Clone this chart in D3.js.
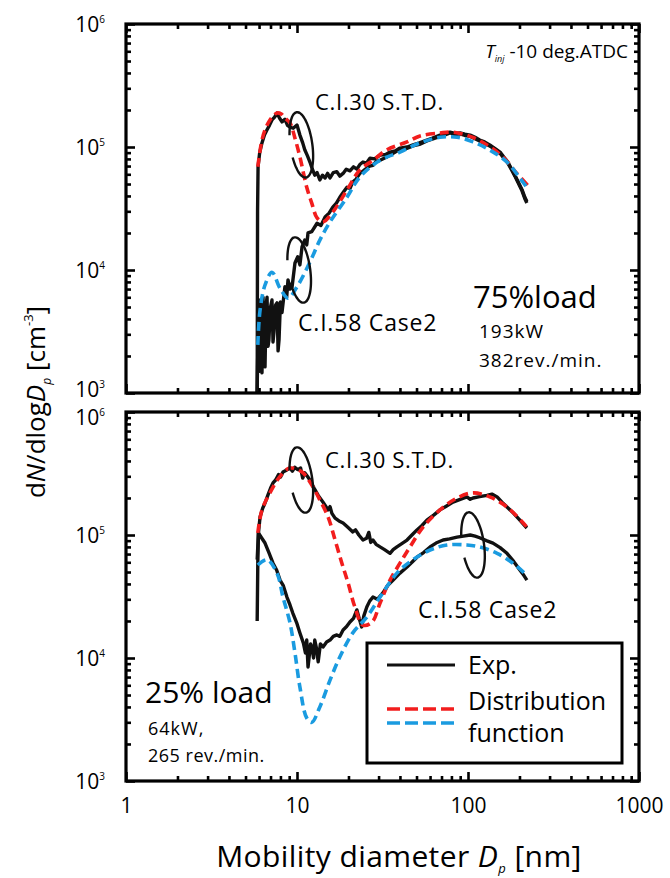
<!DOCTYPE html>
<html>
<head>
<meta charset="utf-8">
<script src="https://cdn.jsdelivr.net/npm/d3@7"></script>
<style>
  body { margin: 0; background: #fff; }
  svg { display: block; }
  text { font-family: "Open Sans", Lato, sans-serif; fill: #000; }
</style>
</head>
<body>
<svg id="chart" width="670" height="878"></svg>
<script>
// Particle size distributions, [mobility diameter nm, dN/dlogDp cm^-3]

// 75% load panel
const top30Exp = [[5.85,1000],[5.88,3.0e4],[5.92,6.9e4],[6.05,9.0e4],[6.24,1.08e5],[6.45,1.25e5],[6.68,1.38e5],[6.9,1.5e5],[7.14,1.66e5],[7.4,1.75e5],[7.64,1.89e5],[7.9,1.72e5],[8.17,1.6e5],[8.5,1.68e5],[8.8,1.5e5],[9.1,1.45e5],[9.5,1.42e5],[10.0,1.51e5],[10.4,1.25e5],[10.8,1.08e5],[11.1,9.5e4],[11.5,8.5e4],[11.9,7.55e4],[12.3,6.6e4],[12.7,5.9e4],[13.1,6.2e4],[13.6,5.4e4],[14.1,5.9e4],[14.6,5.6e4],[15.1,6.1e4],[15.6,5.6e4],[16.3,6.2e4],[17.1,6.3e4],[17.8,5.8e4],[18.6,6.1e4],[19.4,6.6e4],[20.4,6.4e4],[21.4,6.9e4],[22.4,6.6e4],[23.3,7.2e4],[24.3,7.55e4],[25.5,7.4e4],[26.7,8.1e4],[28.5,8.0e4],[30.6,8.6e4],[33,8.7e4],[35,9.1e4],[37.5,9.3e4],[40,9.8e4],[44,1.0e5],[47.7,1.04e5],[52,1.08e5],[57.5,1.14e5],[62,1.18e5],[68.6,1.25e5],[73,1.27e5],[78.5,1.32e5],[84,1.29e5],[89.8,1.3e5],[96,1.27e5],[103,1.25e5],[110,1.2e5],[117,1.14e5],[125,1.1e5],[134,1.04e5],[144,9.7e4],[154,9.1e4],[162,8.3e4],[171,7.55e4],[180,6.6e4],[188,5.9e4],[198,5.1e4],[207,4.5e4],[215,3.9e4],[221,3.6e4]];

const top58Exp = [[5.84,1000],[5.9,2.2e3],[5.97,4.5e3],[6.03,1.5e3],[6.08,5.7e3],[6.16,2.0e3],[6.24,1.46e3],[6.33,6.0e3],[6.42,2.2e3],[6.5,1.63e3],[6.6,5.2e3],[6.68,6.0e3],[6.77,2.4e3],[6.85,2.7e3],[7.0,5.0e3],[7.14,5.7e3],[7.24,2.6e3],[7.33,3.1e3],[7.5,5.2e3],[7.64,5.4e3],[7.75,2.2e3],[7.85,2.7e3],[8.0,5.5e3],[8.17,4.5e3],[8.5,7.3e3],[8.7,6.0e3],[8.86,8.3e3],[9.1,7.0e3],[9.36,7.3e3],[9.73,1.14e4],[10.1,1.28e4],[10.4,1.1e4],[10.7,1.54e4],[11.1,1.75e4],[11.4,1.6e4],[11.6,2.0e4],[12.2,2.05e4],[13.1,2.4e4],[13.8,2.3e4],[14.6,2.7e4],[15.4,2.9e4],[16.2,3.25e4],[17.0,3.5e4],[17.8,3.9e4],[18.7,4.3e4],[19.6,4.7e4],[20.4,4.6e4],[21.2,5.2e4],[22.2,5.5e4],[23.3,6.1e4],[24.4,6.4e4],[25.6,6.75e4],[26.6,7.0e4],[27.8,7.1e4],[29,7.6e4],[30.6,7.8e4],[33.5,8.3e4],[36.5,8.9e4],[40,9.6e4],[43.5,9.7e4],[47.7,1.02e5],[52,1.05e5],[57.5,1.12e5],[63,1.17e5],[68.6,1.22e5],[74,1.26e5],[78.5,1.3e5],[84,1.26e5],[89.8,1.28e5],[96,1.24e5],[103,1.22e5],[110,1.17e5],[117,1.12e5],[125,1.07e5],[134,1.02e5],[144,9.6e4],[154,8.9e4],[162,8.1e4],[171,7.4e4],[180,6.5e4],[188,5.8e4],[198,5.0e4],[207,4.4e4],[215,3.8e4],[221,3.5e4]];

const top30Fit = [[5.9,6.9e4],[6.24,1.14e5],[6.6,1.45e5],[6.95,1.66e5],[7.3,1.8e5],[7.64,1.89e5],[8.1,1.85e5],[8.5,1.72e5],[9.1,1.57e5],[9.73,1.18e5],[10.4,8.3e4],[11.4,4.7e4],[12.2,3.5e4],[13.1,2.65e4],[14.2,2.46e4],[16.2,2.96e4],[19.6,4.47e4],[23.3,6.5e4],[27.8,7.8e4],[33.6,9.5e4],[44,1.1e5],[52.4,1.23e5],[68.6,1.3e5],[81.7,1.32e5],[103,1.22e5],[129,1.04e5],[160,8.3e4],[193,6.1e4],[231,4.65e4]];

const top58Fit = [[5.9,2.46e3],[6.08,4.7e3],[6.5,7.55e3],[7.14,9.6e3],[7.96,7.1e3],[8.86,5.9e3],[10,7.3e3],[11.9,1.16e4],[13.6,1.75e4],[15.6,2.46e4],[19.6,3.9e4],[23.3,5.7e4],[30.6,7.8e4],[40,9.1e4],[52.4,1.08e5],[68.6,1.2e5],[86.3,1.2e5],[107,1.1e5],[134,9.45e4],[169,7.55e4],[201,5.6e4],[221,4.7e4]];

// 25% load panel
const bot30Exp = [[5.85,2.0e4],[5.9,6.0e4],[5.95,1.04e5],[6.08,1.4e5],[6.3,1.65e5],[6.5,1.82e5],[6.75,2.1e5],[7.0,2.4e5],[7.24,2.65e5],[7.5,2.8e5],[7.8,3.1e5],[8.0,2.95e5],[8.28,3.25e5],[8.6,3.35e5],[9.1,3.5e5],[9.4,3.3e5],[9.7,3.55e5],[10.1,3.4e5],[10.5,3.5e5],[10.8,2.9e5],[11.1,3.2e5],[11.5,3.0e5],[11.9,2.8e5],[12.6,2.4e5],[13.3,2.1e5],[14.2,1.85e5],[15.2,1.6e5],[15.6,1.7e5],[16.0,1.5e5],[16.7,1.37e5],[17.6,1.3e5],[18.6,1.25e5],[19.9,1.15e5],[21.2,1.06e5],[22.0,1.1e5],[23,1.0e5],[24.3,9.1e4],[25.5,9.4e4],[26.3,1.05e5],[27,8.7e4],[27.8,9.1e4],[29,8.4e4],[30.6,8.0e4],[32.5,7.6e4],[35,7.1e4],[36.5,7.6e4],[38.4,8.0e4],[41,8.5e4],[44,9.1e4],[47,1.0e5],[50.3,1.1e5],[54,1.2e5],[57.5,1.32e5],[63,1.45e5],[68.6,1.6e5],[75,1.72e5],[81.7,1.85e5],[90,1.95e5],[98.6,2.04e5],[103,1.95e5],[107,2.0e5],[117,2.05e5],[129,2.1e5],[138,2.15e5],[148,2.04e5],[158,1.85e5],[169,1.69e5],[185,1.5e5],[201,1.32e5],[221,1.14e5]];

const bot58Exp = [[5.85,6.3e4],[5.95,1.04e5],[6.2,9.5e4],[6.5,8.6e4],[6.85,7.2e4],[7.24,5.9e4],[7.6,5.2e4],[7.96,4.3e4],[8.3,3.9e4],[8.73,3.13e4],[9.1,2.7e4],[9.45,2.32e4],[10.0,1.9e4],[10.4,1.6e4],[10.9,1.32e4],[11.2,1.1e4],[11.4,1.4e4],[11.6,8.45e3],[12.0,1.3e4],[12.2,1.23e4],[12.5,1.0e4],[12.7,1.4e4],[13.0,1.2e4],[13.3,9.3e3],[13.7,1.3e4],[14.2,1.23e4],[14.9,1.35e4],[15.6,1.4e4],[16.3,1.5e4],[17.1,1.54e4],[17.8,1.5e4],[18.6,1.69e4],[19.5,1.8e4],[20.4,1.96e4],[21.4,2.1e4],[22.4,2.46e4],[23.1,2.1e4],[23.9,1.79e4],[24.6,2.2e4],[25.6,2.6e4],[26.6,2.9e4],[27.8,3.13e4],[29.5,3.0e4],[31.8,3.38e4],[34,3.9e4],[36.5,4.3e4],[40,4.9e4],[44,5.5e4],[47,6.0e4],[50.3,6.6e4],[55,7.2e4],[60,8.0e4],[65,8.6e4],[71.5,9.1e4],[78,9.3e4],[86.3,9.6e4],[94,9.8e4],[103,1.0e5],[110,9.8e4],[117,9.5e4],[128,9.0e4],[140,8.6e4],[154,7.9e4],[169,7.1e4],[185,6.1e4],[201,5.2e4],[212,4.7e4],[221,4.3e4]];

const bot30Fit = [[5.9,1.04e5],[6.24,1.6e5],[6.95,2.2e5],[7.96,3.0e5],[9.1,3.5e5],[10.7,3.25e5],[11.9,2.7e5],[13.6,1.93e5],[15.2,1.4e5],[16.7,9.1e4],[18.3,5.9e4],[19.9,4.07e4],[21.8,2.6e4],[24.3,1.85e4],[27.5,1.96e4],[30.6,2.8e4],[35,4.3e4],[40,5.9e4],[45.8,8e4],[54.6,1.16e5],[68.6,1.6e5],[86.3,2.0e5],[107,2.2e5],[134,2.04e5],[169,1.69e5],[221,1.16e5]];

const bot58Fit = [[5.9,5.7e4],[6.68,6.3e4],[7.64,4.9e4],[8.28,3.13e4],[9.1,1.93e4],[9.73,1.1e4],[10.4,5.8e3],[11.4,3.25e3],[12.2,3.0e3],[13.6,4.0e3],[15.6,6.6e3],[17.8,1.02e4],[21.2,1.6e4],[25.6,2.15e4],[30.6,3.13e4],[38.4,4.9e4],[47.7,6.3e4],[60,7.55e4],[75.4,8.3e4],[98.6,8.3e4],[117,8.0e4],[148,7.1e4],[183,5.9e4],[221,4.7e4]];

// Axis ticks
const xMajor = [1, 10, 100, 1000];
const yMajor = [1e3, 1e4, 1e5, 1e6];
const xLabels = ["1", "10", "100", "1000"];
const yExponents = ["3", "4", "5", "6"];

// Ellipse annotations grouping each series pair: [diameter, value]
const topRings = [[10.6, 1.04e5], [10.3, 1.0e4]];
const botRings = [[10.6, 2.8e5], [107, 8.3e4]];

const RED = "#f21d1d", BLUE = "#1a9be0";

const svg = d3.select("#chart");
svg.append("rect").attr("width", 670).attr("height", 878).attr("fill", "#fff");

const x = d3.scaleLog().domain([1, 1000]).range([126, 639]);

const panels = [
  { y: d3.scaleLog().domain([1e3, 1e6]).range([393, 24]),
    exp: [top30Exp, top58Exp], fits: [[top30Fit, RED], [top58Fit, BLUE]], rings: topRings,
    labelShift: [-4, 0, 0, 0] },
  { y: d3.scaleLog().domain([1e3, 1e6]).range([781, 412]),
    exp: [bot30Exp, bot58Exp], fits: [[bot30Fit, RED], [bot58Fit, BLUE]], rings: botRings,
    labelShift: [0, 0, 0, 5] }
];

function minorTicks(majors) {
  const out = [];
  for (let i = 0; i < majors.length - 1; i++)
    for (let k = 2; k <= 9; k++) out.push(majors[i] * k);
  return out;
}
const xMinor = minorTicks(xMajor), yMinor = minorTicks(yMajor);

function tickSet(g, axis) {
  g.call(axis.tickSizeOuter(0).tickFormat(""));
  g.select(".domain").remove();
  g.selectAll("line").attr("stroke", "#000").attr("stroke-width", 2.6);
}

panels.forEach((p) => {
  const [y0, y1] = p.y.range();
  const [x0, x1] = x.range();
  const g = svg.append("g");

  // curves
  const line = d3.line().x(d => x(d[0])).y(d => p.y(d[1]));
  const smooth = d3.line().x(d => x(d[0])).y(d => p.y(d[1])).curve(d3.curveCatmullRom.alpha(0.5));

  p.exp.forEach(s => g.append("path").attr("d", line(s)).attr("fill", "none")
    .attr("stroke", "#111").attr("stroke-width", 3.4).attr("stroke-linejoin", "round"));
  p.fits.forEach(([s, c]) => g.append("path").attr("d", smooth(s)).attr("fill", "none")
    .attr("stroke", c).attr("stroke-width", 3.6).attr("stroke-dasharray", "9,5"));

  // rings around each pair of curves
  p.rings.forEach(([dx, dv]) => {
    const cx = x(dx), cy = p.y(dv), rx = 11, ry = 33;
    const a0 = 200 * Math.PI / 180, a1 = a0 + 320 * Math.PI / 180;
    const pts = d3.range(0, 61).map(i => {
      const a = a0 + (a1 - a0) * i / 60;
      return [cx + rx * Math.cos(a), cy + ry * Math.sin(a)];
    });
    g.append("path").attr("d", d3.line().curve(d3.curveBasis)(pts))
      .attr("fill", "none").attr("stroke", "#111").attr("stroke-width", 2.4)
      .attr("transform", `rotate(-8,${cx},${cy})`);
  });

  // ticks on all four sides, pointing inward
  [[d3.axisBottom, `translate(0,${y0})`, x, xMajor, xMinor],
   [d3.axisTop, `translate(0,${y1})`, x, xMajor, xMinor],
   [d3.axisLeft, `translate(${x0},0)`, p.y, yMajor, yMinor],
   [d3.axisRight, `translate(${x1},0)`, p.y, yMajor, yMinor]].forEach(([fn, tr, sc, maj, mi]) => {
    tickSet(g.append("g").attr("transform", tr), fn(sc).tickValues(maj).tickSizeInner(-9));
    tickSet(g.append("g").attr("transform", tr), fn(sc).tickValues(mi).tickSizeInner(-5));
  });

  // frame
  g.append("rect").attr("x", x0).attr("y", y1).attr("width", x1 - x0).attr("height", y0 - y1)
    .attr("fill", "none").attr("stroke", "#000").attr("stroke-width", 3.2);

  // y tick labels 10^n
  const yl = g.append("g").attr("transform", `translate(${x0},0)`)
    .call(d3.axisLeft(p.y).tickValues(yMajor).tickSize(0).tickPadding(21).tickFormat(""));
  yl.select(".domain").remove();
  yl.selectAll(".tick text").each(function(d, i) {
    const t = d3.select(this).attr("font-family", null).attr("font-size", 21)
      .attr("dy", null).attr("y", 7 + p.labelShift[i]);
    t.append("tspan").text("10");
    t.append("tspan").attr("font-size", 10).attr("dy", -9).text(yExponents[i]);
  });
});

// x tick labels under the lower panel
const xl = svg.append("g").attr("transform", `translate(0,${panels[1].y.range()[0]})`)
  .call(d3.axisBottom(x).tickValues(xMajor).tickSize(0).tickPadding(17)
    .tickFormat((d, i) => xLabels[i]));
xl.select(".domain").remove();
xl.selectAll(".tick text").attr("font-family", null).attr("font-size", 21);

// axis titles
const yt = svg.append("text").attr("transform", "translate(45,402) rotate(-90)")
  .attr("text-anchor", "middle").attr("font-size", 26);
yt.append("tspan").text("d");
yt.append("tspan").attr("font-style", "italic").text("N");
yt.append("tspan").text("/dlog");
yt.append("tspan").attr("font-style", "italic").text("D");
yt.append("tspan").attr("font-style", "italic").attr("font-size", 12).attr("dy", 6).text("p");
yt.append("tspan").attr("dy", -6).text(" [cm");
yt.append("tspan").attr("font-size", 13).attr("dy", -12).text("-3");
yt.append("tspan").attr("dy", 12).text("]");

const xt = svg.append("text").attr("x", 399).attr("y", 867)
  .attr("text-anchor", "middle").attr("font-size", 30).attr("letter-spacing", 0.4);
xt.append("tspan").text("Mobility diameter ");
xt.append("tspan").attr("font-style", "italic").text("D");
xt.append("tspan").attr("font-style", "italic").attr("font-size", 13).attr("dy", 6).text("p");
xt.append("tspan").attr("dy", -6).text(" [nm]");

// annotations, upper panel
const tinj = svg.append("text").attr("x", 628).attr("y", 58).attr("text-anchor", "end").attr("font-size", 19);
tinj.append("tspan").attr("font-style", "italic").text("T");
tinj.append("tspan").attr("font-style", "italic").attr("font-size", 9).attr("dy", 4).text("inj");
tinj.append("tspan").attr("dy", -4).text(" -10 deg.ATDC");

function label(tx, ty, s, size, spacing) {
  svg.append("text").attr("x", tx).attr("y", ty).attr("font-size", size)
    .attr("letter-spacing", spacing || 0).text(s);
}
label(315, 110, "C.I.30 S.T.D.", 22, 0.7);
label(298, 331, "C.I.58 Case2", 23, 0.8);
label(473, 308, "75%load", 31);
label(479, 338, "193kW", 19, 1);
label(479, 367, "382rev./min.", 19, 1);

// annotations, lower panel
label(325, 468, "C.I.30 S.T.D.", 22, 0.7);
label(418, 618, "C.I.58 Case2", 23, 0.8);
label(145, 703, "25% load", 30);
label(148, 735, "64kW,", 18, 1);
label(148, 762, "265 rev./min.", 18, 0.5);

// legend
const lg = svg.append("g");
lg.append("rect").attr("x", 367).attr("y", 643).attr("width", 255).attr("height", 120)
  .attr("fill", "#fff").attr("stroke", "#000").attr("stroke-width", 3);
lg.append("line").attr("x1", 387).attr("x2", 455).attr("y1", 665).attr("y2", 665)
  .attr("stroke", "#111").attr("stroke-width", 3.2);
lg.append("line").attr("x1", 387).attr("x2", 455).attr("y1", 709).attr("y2", 709)
  .attr("stroke", RED).attr("stroke-width", 3.6).attr("stroke-dasharray", "13,5");
lg.append("line").attr("x1", 387).attr("x2", 455).attr("y1", 723).attr("y2", 723)
  .attr("stroke", BLUE).attr("stroke-width", 3.6).attr("stroke-dasharray", "13,5");
lg.append("text").attr("x", 468).attr("y", 674).attr("font-size", 25).text("Exp.");
lg.append("text").attr("x", 468).attr("y", 710).attr("font-size", 25).text("Distribution");
lg.append("text").attr("x", 468).attr("y", 742).attr("font-size", 25).text("function");
</script>
</body>
</html>
